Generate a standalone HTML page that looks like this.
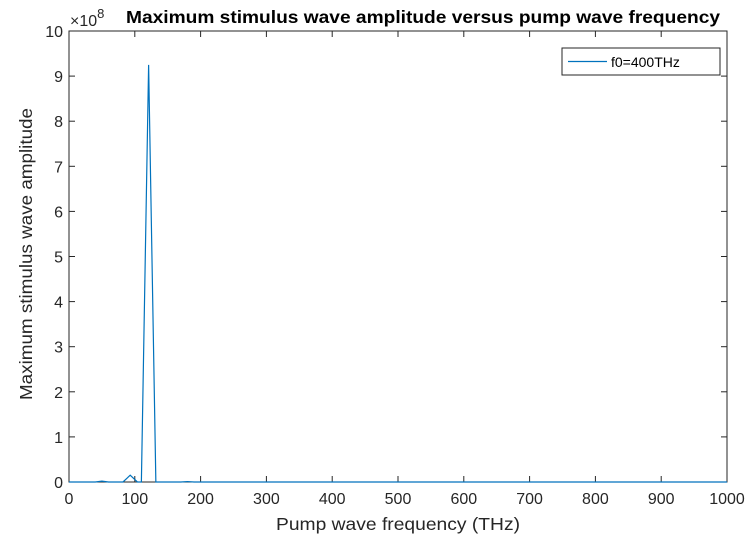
<!DOCTYPE html>
<html><head><meta charset="utf-8"><style>
body{margin:0;background:#fff;}
svg text{font-family:"Liberation Sans",Arial,sans-serif;}
</style></head><body>
<svg width="749" height="542" viewBox="0 0 749 542">
<rect width="749" height="542" fill="#fff"/>
<g id="plot"></g>
</svg>
<script>
const freqs=[0,40,50,60,82,93,104,110,121,132,140,170,180,190,1000];
const amps=[0,0,0.02,0,0,0.15,0,0,9.25,0,0,0,0.01,0,0];
const xTicks=[0,100,200,300,400,500,600,700,800,900,1000];
const yTicks=[0,1,2,3,4,5,6,7,8,9,10];
const L=69,R=727,T=31,B=482;
const sx=v=>L+(v-0)/1000*(R-L);
const sy=v=>B-(v/10)*(B-T);
const NS="http://www.w3.org/2000/svg";
const g=document.getElementById('plot');
function mk(t,a,txt){const e=document.createElementNS(NS,t);for(const k in a)e.setAttribute(k,a[k]);if(txt!==undefined)e.textContent=txt;g.appendChild(e);return e;}
const bg=mk('rect',{x:L,y:T,width:R-L,height:B-T,fill:'#fff'});


xTicks.forEach(v=>{const x=sx(v);
 mk('line',{x1:x,x2:x,y1:B,y2:B-6,stroke:'#262626'});mk('line',{x1:x,x2:x,y1:T,y2:T+6,stroke:'#262626'});
 const t=mk('text',{x:x,y:B+22,'text-anchor':'middle','font-size':'16',fill:'#262626'},v);
 
 });
yTicks.forEach(v=>{const y=sy(v);
 mk('line',{x1:L,x2:L+6,y1:y,y2:y,stroke:'#262626'});mk('line',{x1:R,x2:R-6,y1:y,y2:y,stroke:'#262626'});
 const t=mk('text',{x:L-6,y:y+6,'text-anchor':'end','font-size':'16',fill:'#262626'},v);
 
 });
const box=mk('rect',{x:L,y:T,width:R-L,height:B-T,fill:'none',stroke:'#262626'});


const line=mk('polyline',{points:freqs.map((f,i)=>sx(f)+','+sy(amps[i])).join(' '),fill:'none',stroke:'#0072bd','stroke-width':'1.2'});


const ex=mk('text',{x:70,y:26,'font-size':'16',fill:'#262626'});


ex.innerHTML='×10<tspan dy="-8" font-size="13">8</tspan>';
const ti=mk('text',{x:126,y:23,'font-size':'17.5','font-weight':'bold',fill:'#000',textLength:'594',lengthAdjust:'spacingAndGlyphs'},'Maximum stimulus wave amplitude versus pump wave frequency');


const xl=mk('text',{x:276,y:530,'font-size':'17.5',fill:'#262626',textLength:'244',lengthAdjust:'spacingAndGlyphs'},'Pump wave frequency (THz)');


const yl=mk('text',{x:32,y:400,'font-size':'17.5',fill:'#262626',transform:'rotate(-90 32 400)',textLength:'292',lengthAdjust:'spacingAndGlyphs'},'Maximum stimulus wave amplitude');


const lg=mk('rect',{x:562,y:48,width:158,height:27,fill:'#fff',stroke:'#262626'});


const ll=mk('line',{x1:568,x2:607,y1:61.5,y2:61.5,stroke:'#0072bd','stroke-width':'1.2'});


const lt=mk('text',{x:611,y:67,'font-size':'14',fill:'#000'},'f0=400THz');


</script>
</body></html>
